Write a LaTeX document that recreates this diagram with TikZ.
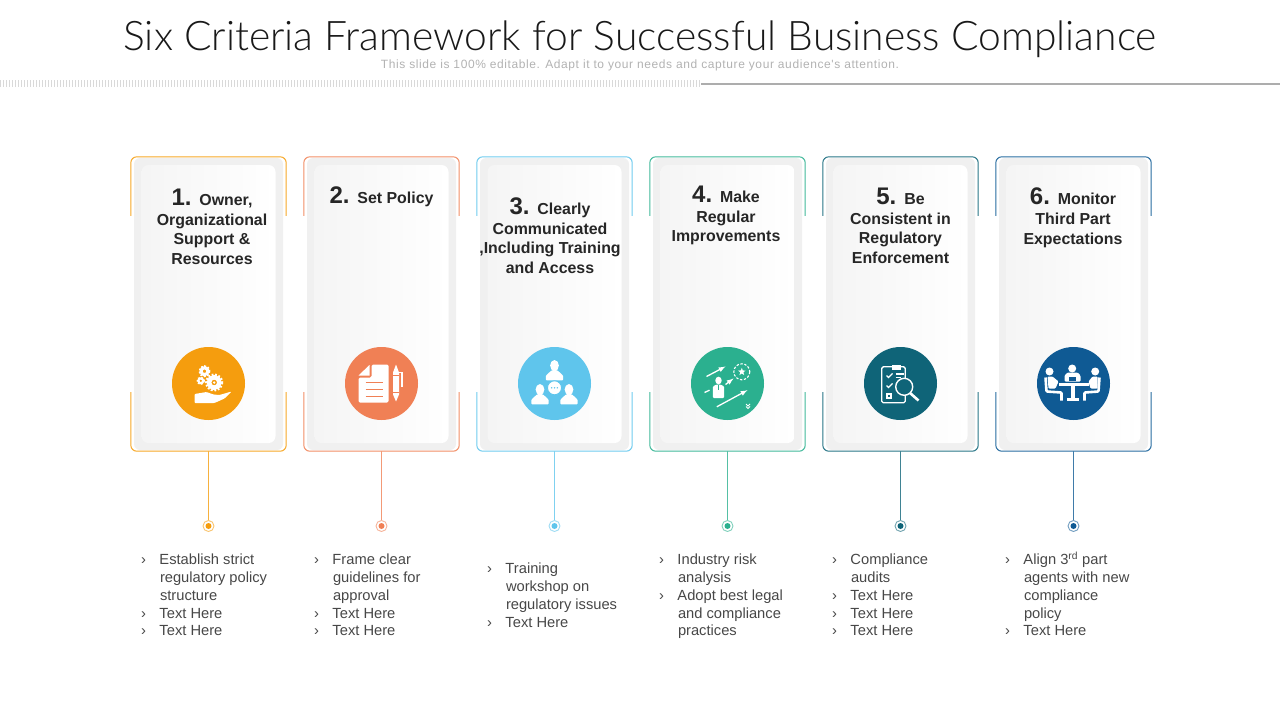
\documentclass[tikz,border=0pt]{standalone}
\usepackage{fontspec}
\setmainfont{Liberation Sans}
\newfontfamily\titlefont{Lato Light}
\newfontfamily\subfont[LetterSpace=5]{Liberation Sans}
\usetikzlibrary{calc,shapes.geometric}

\definecolor{colA}{HTML}{F59D0E}
\definecolor{colB}{HTML}{F08055}
\definecolor{colC}{HTML}{5FC5EC}
\definecolor{colD}{HTML}{2BB08F}
\definecolor{colE}{HTML}{0F6478}
\definecolor{colF}{HTML}{0F5A94}

\def\cardsep{173}
\newcommand{\itm}[1]{\makebox[18.3pt][l]{›}#1}
\newcommand{\cnt}[1]{\hspace*{18.8pt}#1}
\newcommand{\hnum}[1]{{\fontsize{24}{24}\selectfont #1}\hspace{2pt}}
\newcommand{\gearicon}[3]{
    \draw[white,line width=#3*0.6] (#1,#2) circle (#3*0.66);
    \draw[white,line width=#3*0.32,dash pattern=on 1.8pt off 1.6pt] (#1,#2) circle (#3);
}
\newcommand{\bustline}[3]{
    \fill[white] (#1,#2-#3*.2) ellipse (#3*.95 and #3*1.2);
    \fill[white,rounded corners=1pt] (#1-#3*1.9,#2+#3*3) -- (#1-#3*1.9,#2+#3*2) -- (#1-#3*.6,#2+#3*.8) -- (#1+#3*.6,#2+#3*.8) -- (#1+#3*1.9,#2+#3*2) -- (#1+#3*1.9,#2+#3*3) -- cycle;
}

\begin{document}
\begin{tikzpicture}[x=1pt,y=-1pt]
    \tikzstyle{card}=[minimum width=155pt,minimum height=294pt,inner sep=0pt]
    \tikzstyle{edging}=[line width=1pt,rounded corners=6pt]
    \tikzstyle{panel}=[fill=black!6,rounded corners=6pt,minimum width=149pt,minimum height=292pt,inner sep=0pt]
    \tikzstyle{face}=[rounded corners=7pt,minimum width=134pt,minimum height=278pt,inner sep=0pt,shading angle=-65,left color=black!4,right color=white]
    \tikzstyle{badge}=[circle,minimum size=73pt,inner sep=0pt]
    \tikzstyle{dot}=[circle,fill=white,line width=0.9pt,minimum size=11pt,inner sep=0pt]
    \tikzstyle{head}=[align=center,inner sep=0pt,anchor=north,text=black!85,font=\bfseries\fontsize{15.9}{19.6}\selectfont]
    \tikzstyle{bullets}=[align=left,inner sep=0pt,anchor=north west,text=black!72,font=\fontsize{14.7}{17.75}\selectfont]
    \tikzstyle{icon}=[white,line width=1.3pt]

    \useasboundingbox (0,0) rectangle (1280,720);

    % Title and the rule under it
    \node[text=black!90,font=\titlefont\fontsize{40.8}{41}\selectfont] (title) at (640,39.5) {Six Criteria Framework for Successful Business Compliance};
    \node[text=black!30,font=\subfont\fontsize{12}{12}\selectfont] (sub) at (640,65.5) {This slide is 100\% editable. Adapt it to your needs and capture your audience's attention.};
    \coordinate (R-1) at (0,83.5);
    \coordinate (R-2) at (701,83.5);
    \coordinate (R-3) at (1280,83.5);
    \draw[black!15,line width=7pt,dash pattern=on 1pt off 2pt] (R-1) -- (R-2);
    \draw[black!32,line width=2pt] (R-2) -- (R-3);

    % Draw the cards, their badges and the dots below them
    \foreach \n / \col in {1/colA,2/colB,3/colC,4/colD,5/colE,6/colF} {
        \pgfmathsetmacro{\xx}{208.5+(\n-1)*\cardsep}
        \node[card] (C-\n) at (\xx,304) {};
        \node[panel] (P-\n) at (\xx,304) {};
        \node[face] (F-\n) at (\xx,304) {};
        \node[badge,fill=\col] (I-\n) at (\xx,383.5) {};
        \node[dot,draw=\col!60] (D-\n) at (\xx,526) {};
        \fill[\col] (D-\n) circle (3);
        \draw[edging,\col!90] ([yshift=-59pt]C-\n.north west) |- (C-\n.north east) -- ([yshift=-59pt]C-\n.north east);
        \draw[edging,\col!90] ([yshift=59pt]C-\n.south west) |- (C-\n.south east) -- ([yshift=59pt]C-\n.south east);
        \draw[\col!80,line width=1pt] (C-\n.south) -- (D-\n.north);
    }

    % Card headings
    \node[head] (H-1) at (212,189) {\hnum{1.} Owner,\\Organizational\\Support \&\\Resources};
    \node[head] (H-2) at (381.5,186.5) {\hnum{2.} Set Policy};
    \node[head] (H-3) at (550,197.5) {\hnum{3.} Clearly\\Communicated\\,Including Training\\and Access};
    \node[head] (H-4) at (726,186) {\hnum{4.} Make\\Regular\\Improvements};
    \node[head] (H-5) at (900.5,188) {\hnum{5.} Be\\Consistent in\\Regulatory\\Enforcement};
    \node[head] (H-6) at (1073,188) {\hnum{6.} Monitor\\Third Part\\Expectations};

    % Bullet lists
    \node[bullets] (T-1) at (141,554) {\itm{Establish strict}\\\cnt{regulatory policy}\\\cnt{structure}\\\itm{Text Here}\\\itm{Text Here}};
    \node[bullets] (T-2) at (314,554) {\itm{Frame clear}\\\cnt{guidelines for}\\\cnt{approval}\\\itm{Text Here}\\\itm{Text Here}};
    \node[bullets] (T-3) at (487,563) {\itm{Training}\\\cnt{workshop on}\\\cnt{regulatory issues}\\\itm{Text Here}};
    \node[bullets] (T-4) at (659,554) {\itm{Industry risk}\\\cnt{analysis}\\\itm{Adopt best legal}\\\cnt{and compliance}\\\cnt{practices}};
    \node[bullets] (T-5) at (832,554) {\itm{Compliance}\\\cnt{audits}\\\itm{Text Here}\\\itm{Text Here}\\\itm{Text Here}};
    \node[bullets] (T-6) at (1005,554) {\itm{Align 3\smash{\textsuperscript{rd}} part}\\\cnt{agents with new}\\\cnt{compliance}\\\cnt{policy}\\\itm{Text Here}};

    % Icon 1: gears over a hand
    \begin{scope}[shift={(I-1)}]
        \gearicon{5.7}{-1}{7.8}
        \gearicon{-4}{-12.3}{5.2}
        \gearicon{-7.7}{-2.7}{3.6}
        \fill[colA] (5.7,-1) circle (2.6);
        \fill[white] (5.7,-1) circle (1.3);
        \fill[white,rounded corners=1pt] (-14,10.5) -- (-2,8.5) -- (5,11) -- (11,11.5) -- (23,8) -- (16,15) -- (6,19.5) -- (-14,19.5) -- cycle;
    \end{scope}

    % Icon 2: page and pen
    \begin{scope}[shift={(I-2)}]
        \fill[white,rounded corners=1.5pt] (-23,-6) -- (-10,-6) -- (-10,-19) -- (7,-19) -- (7,19) -- (-23,19) -- cycle;
        \fill[white] (-23,-8) -- (-12,-18.5) -- (-12,-8) -- cycle;
        \foreach \yy in {-1,6,13}
            \draw[colB,line width=1.6pt] (-16,\yy) -- (1,\yy);
        \fill[white] (11.5,-11) -- (14.5,-19) -- (17.5,-11) -- (17.5,11) -- (14.5,18) -- (11.5,11) -- cycle;
        \draw[white,line width=1.3pt] (17.5,-11) -- (20.5,-11) -- (20.5,3);
        \draw[colB,line width=.8pt] (11.5,-8) -- (17.5,-8) (11.5,9) -- (17.5,9);
    \end{scope}

    % Icon 3: three people around a speech bubble
    \begin{scope}[shift={(I-3)}]
        \bustline{0}{-17}{4.6}
        \bustline{-14.5}{7}{4.6}
        \bustline{14.5}{7}{4.6}
        \fill[white,draw=colC,line width=.9pt] (0,4.3) circle (7);
        \foreach \xx in {-2.8,0,2.8}
            \fill[colC] (\xx,4.3) circle (.8);
    \end{scope}

    % Icon 4: person, arrows and a star target
    \begin{scope}[shift={(I-4)}]
        \draw[icon,-latex] (-21,-7) -- (-2,-17);
        \draw[icon,-latex] (-2,1) -- (6,-5);
        \draw[icon,-latex] (-10.7,23.3) -- (20,6.7);
        \draw[icon] (-23,9) -- (-18,6.7);
        \fill[white] (-9,-3) ellipse (3.2 and 3.8);
        \fill[white,rounded corners=1pt] (-14.7,14.5) -- (-14.7,3) -- (-11,1) -- (-7,1) -- (-3.3,3) -- (-3.3,14.5) -- cycle;
        \draw[colD,line width=.9pt] (-9,1) -- (-9,6);
        \draw[white,line width=1.1pt,dash pattern=on 2.4pt off 1.6pt] (14.3,-11.7) circle (8);
        \node[star,fill=white,star points=5,star point ratio=2.4,minimum size=8pt,inner sep=0pt] (S-4) at (14.3,-11.7) {};
        \draw[white,line width=.9pt] (18.5,20.5) -- (20.5,22.5) -- (22.5,20.5) (18.5,23) -- (20.5,25) -- (22.5,23);
    \end{scope}

    % Icon 5: clipboard and magnifier
    \begin{scope}[shift={(I-5)}]
        \draw[icon,rounded corners=1.5pt] (-18.7,-16.7) rectangle (4.7,19.3);
        \fill[white] (-8.7,-18.5) rectangle (0,-14);
        \foreach \yy in {-8,2}
            \draw[white,line width=1.1pt] (-14,\yy) -- (-12,\yy+2) -- (-8,\yy-2);
        \draw[white,line width=1.1pt] (-13.5,10.5) rectangle (-9.5,14.5);
        \draw[white,line width=1.1pt] (-5,-9.5) -- (3,-9.5) (-5,-6) -- (0,-6);
        \fill[colE,draw=white,line width=1.4pt] (3.7,3.3) circle (8.5);
        \draw[white,line width=2.6pt] (9.5,9.5) -- (18,17);
    \end{scope}

    % Icon 6: meeting round a table
    \begin{scope}[shift={(I-6)}]
        \foreach \xx / \yy in {-24/-12,-1.3/-15,21.7/-12}
            \fill[white] (\xx,\yy) circle (4);
        \fill[white,rounded corners=1pt] (-9,-2) -- (-9,-8) -- (-6,-11) -- (4,-11) -- (7,-8) -- (7,-2) -- cycle;
        \fill[colF] (-4.5,-7) rectangle (2.5,-2.5);
        \fill[white] (-14.5,-1) rectangle (15,2.5);
        \fill[white] (-3,2) rectangle (1,15);
        \fill[white] (-7,14) rectangle (5,17.5);
        \draw[white,line width=2.6pt,rounded corners=1pt] (-28,-6) -- (-27,8) -- (-12,9) -- (-12,17);
        \draw[white,line width=2.6pt,rounded corners=1pt] (26,-6) -- (25,8) -- (11,9) -- (11,17);
        \fill[white,rounded corners=1pt] (-26,-7) -- (-21,-7) -- (-15,-2) -- (-18,5) -- (-25,5) -- cycle;
        \fill[white,rounded corners=1pt] (24,-7) -- (19,-7) -- (15,-2) -- (17,5) -- (24,5) -- cycle;
    \end{scope}
\end{tikzpicture}
\end{document}
